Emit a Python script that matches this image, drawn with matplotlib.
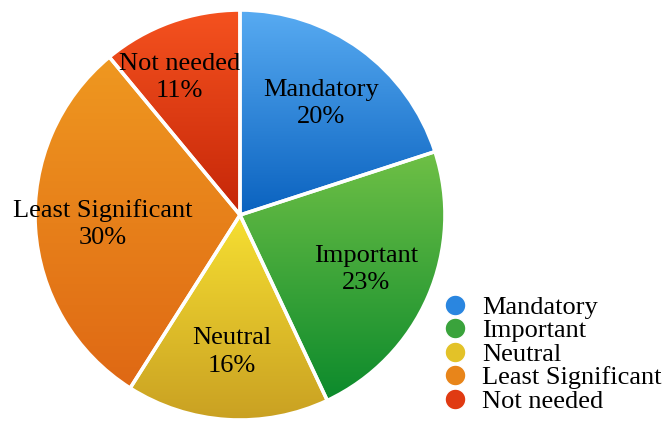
import matplotlib.pyplot as plt
import numpy as np
from matplotlib.colors import LinearSegmentedColormap
from matplotlib.lines import Line2D
from matplotlib.patches import Wedge

plt.rcParams['font.family'] = ['Liberation Serif', 'DejaVu Serif']

categories = ['Mandatory', 'Important', 'Neutral', 'Least Significant', 'Not needed']
shares = [20, 23, 16, 30, 11]
top_colors = ['#58abf2', '#6fc046', '#f6df32', '#ef9820', '#f5521f']
bottom_colors = ['#0a62bf', '#0c8a2c', '#c9a022', '#df6814', '#c52608']
legend_colors = ['#2a86e0', '#3aa33c', '#e3c228', '#e8851a', '#e03a12']

fig = plt.figure(figsize=(6.67, 4.30), dpi=100)
ax = fig.add_axes([33 / 667, 8 / 430, 414 / 667, 414 / 430])

wedges, _, autotexts = ax.pie(
    shares, startangle=90, counterclock=False, radius=1.0,
    autopct='%1.0f%%', pctdistance=0.67,
    wedgeprops=dict(edgecolor='white', linewidth=0),
    textprops=dict(fontsize=19, color='black'))

# vertical gradient fill clipped to each wedge
for w, c0, c1 in zip(wedges, top_colors, bottom_colors):
    w.set_facecolor('none')
    cmap = LinearSegmentedColormap.from_list('g', [c1, c0])
    grad = np.linspace(0, 1, 256).reshape(-1, 1)
    path = w.get_path().transformed(w.get_patch_transform())
    ys = path.vertices[:, 1]
    im = ax.imshow(grad, cmap=cmap, origin='lower', aspect='auto',
                   extent=(-1, 1, ys.min(), ys.max()), zorder=1)
    im.set_clip_path(w)
    edge = Wedge(w.center, w.r, w.theta1, w.theta2, facecolor='none',
                 edgecolor='white', linewidth=2.5, zorder=3)
    ax.add_patch(edge)

for t, name in zip(autotexts, categories):
    t.set_text(f'{name}\n{t.get_text()}')
    t.set_ha('center')
    t.set_va('center')
    t.set_linespacing(1.3)
    t.set_zorder(5)
# small nudge for the narrow top-left slice
x, y = autotexts[4].get_position()
autotexts[4].set_position((x - 0.07, y + 0.04))

ax.set_xlim(-1.01, 1.01)
ax.set_ylim(-1.01, 1.01)
ax.set_aspect('equal')
ax.axis('off')

handles = [Line2D([], [], marker='o', linestyle='none', markersize=15,
                  markerfacecolor=c, markeredgecolor='white', markeredgewidth=1)
           for c in legend_colors]
fig.legend(handles, categories, loc='lower left', bbox_to_anchor=(423 / 667, 0.003),
           frameon=False, fontsize=19, handletextpad=0.45, labelspacing=0.0,
           handlelength=1.2, borderaxespad=0.2)

fig.savefig('out.png', dpi=100)
